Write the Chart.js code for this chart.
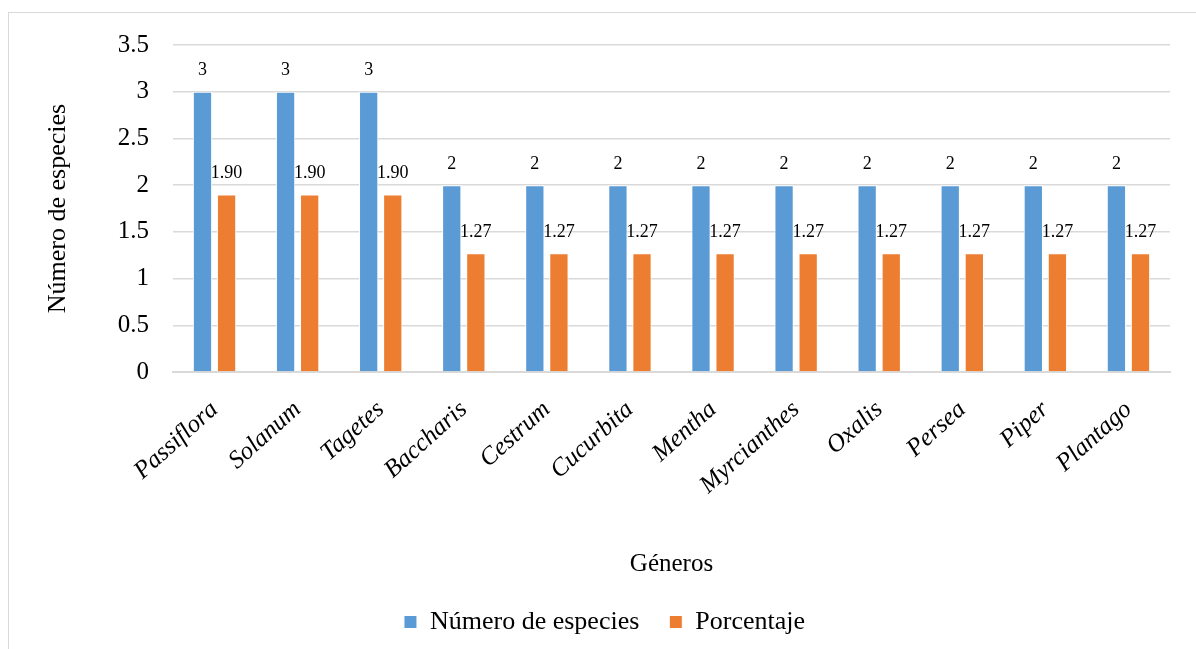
<!DOCTYPE html>
<html>
<head>
<meta charset="utf-8">
<title>Géneros</title>
<script src="https://cdn.jsdelivr.net/npm/chart.js@4/dist/chart.umd.min.js"></script>
<style>
  html, body { margin: 0; padding: 0; background: #fff; overflow: hidden; }
  .frame {
    position: absolute; left: 8px; top: 12px;
    width: 1200px; height: 700px;
    border: 1.5px solid #d9d9d9;
    box-sizing: border-box;
  }
  #chart { position: absolute; left: 0; top: 0; }
</style>
</head>
<body>
<div class="frame"></div>
<canvas id="chart" width="1196" height="649"></canvas>
<script>
// Genus names and the two series plotted for each
const generos = [
    'Passiflora', 'Solanum', 'Tagetes', 'Baccharis', 'Cestrum', 'Cucurbita',
    'Mentha', 'Myrcianthes', 'Oxalis', 'Persea', 'Piper', 'Plantago'
];
const numeroEspecies = [3, 3, 3, 2, 2, 2, 2, 2, 2, 2, 2, 2];
const porcentaje = [1.90, 1.90, 1.90, 1.27, 1.27, 1.27, 1.27, 1.27, 1.27, 1.27, 1.27, 1.27];
const yTicks = [0, 0.5, 1, 1.5, 2, 2.5, 3, 3.5];

const SERIF = "'Liberation Serif', 'Times New Roman', serif";

// Draws the value above every bar
const valueLabels = {
    id: 'valueLabels',
    afterDatasetsDraw(chart) {
        const ctx = chart.ctx;
        ctx.save();
        ctx.font = '18px ' + SERIF;
        ctx.fillStyle = '#000';
        ctx.textAlign = 'center';
        ctx.textBaseline = 'middle';
        chart.data.datasets.forEach((ds, i) => {
            const meta = chart.getDatasetMeta(i);
            meta.data.forEach((bar, j) => {
                const v = ds.data[j];
                const text = ds.decimals ? v.toFixed(ds.decimals) : String(v);
                ctx.fillText(text, bar.x, bar.y - 21);
            });
        });
        ctx.restore();
    }
};

new Chart(document.getElementById('chart'), {
    type: 'bar',
    data: {
        labels: generos,
        datasets: [
            {
                label: 'Número de especies',
                data: numeroEspecies,
                backgroundColor: '#5b9bd5',
                borderColor: '#ffffff',
                borderWidth: 1,
                decimals: 0
            },
            {
                label: 'Porcentaje',
                data: porcentaje,
                backgroundColor: '#ed7d31',
                borderColor: '#ffffff',
                borderWidth: 1,
                decimals: 2
            }
        ]
    },
    options: {
        responsive: false,
        animation: false,
        devicePixelRatio: 1,
        categoryPercentage: 0.58,
        barPercentage: 0.8,
        layout: {
            padding: { left: 39, right: 26, top: 45, bottom: 4 }
        },
        plugins: {
            tooltip: { enabled: false },
            legend: {
                position: 'bottom',
                labels: {
                    font: { family: SERIF, size: 26 },
                    color: '#000',
                    boxWidth: 13,
                    boxHeight: 13,
                    padding: 30
                }
            }
        },
        scales: {
            x: {
                grid: { display: false },
                border: { color: '#d9d9d9', width: 2 },
                ticks: {
                    color: '#000',
                    font: { family: SERIF, size: 25, style: 'italic' },
                    minRotation: 42,
                    maxRotation: 42,
                    padding: 15
                },
                title: {
                    display: true,
                    text: 'Géneros',
                    color: '#000',
                    font: { family: SERIF, size: 25 },
                    padding: { top: 4, bottom: 0 }
                },
                afterFit(scale) { scale.height = 207; }
            },
            y: {
                min: 0,
                max: 3.5,
                grid: { color: '#d9d9d9', lineWidth: 1.5, drawTicks: false },
                border: { display: false },
                afterBuildTicks(scale) {
                    scale.ticks = yTicks.map(v => ({ value: v }));
                },
                ticks: {
                    color: '#000',
                    font: { family: SERIF, size: 25 },
                    padding: 24,
                    callback: (value) => String(value)
                },
                title: {
                    display: true,
                    text: 'Número de especies',
                    color: '#000',
                    font: { family: SERIF, size: 26 },
                    padding: { top: 4, bottom: 4 }
                },
                afterFit(scale) { scale.width = 134; }
            }
        }
    },
    plugins: [valueLabels]
});
</script>
</body>
</html>
